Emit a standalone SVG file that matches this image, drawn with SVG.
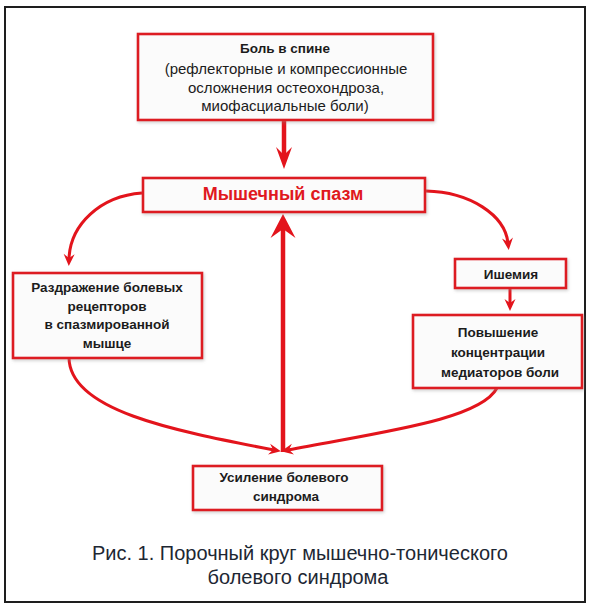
<svg xmlns="http://www.w3.org/2000/svg" width="590" height="608" viewBox="0 0 590 608">
<defs>
<style>
.box{fill:#fbfbfb;stroke:#dd1a22;stroke-width:2.6;filter:url(#sh)}
.t{font-family:"Liberation Sans",Arial,sans-serif;font-size:13.5px;font-weight:bold;fill:#1c1c1c;text-anchor:middle}
.tr{font-family:"Liberation Sans",Arial,sans-serif;font-size:15px;fill:#1c1c1c;text-anchor:middle}
.spasm{font-family:"Liberation Sans",Arial,sans-serif;font-size:18px;font-weight:bold;fill:#e01820;text-anchor:middle}
.cap{font-family:"Liberation Sans",Arial,sans-serif;font-size:20px;fill:#1d2733;text-anchor:middle}
.c{fill:none;stroke:#e3141c;stroke-width:3}
.thick{fill:none;stroke:#e3141c;stroke-width:4.5}
</style>
<filter id="sh" x="-10%" y="-20%" width="120%" height="140%">
<feDropShadow dx="1" dy="1.5" stdDeviation="1.5" flood-color="#888" flood-opacity="0.4"/>
</filter>
<marker id="hs" viewBox="-13 -6 14 12" refX="-7" refY="0" markerWidth="14" markerHeight="12" markerUnits="userSpaceOnUse" orient="auto">
<path d="M0,0 L-12,-5.5 L-8,0 L-12,5.5 z" fill="#e3141c"/>
</marker>
<marker id="hb" viewBox="-23 -10 24 20" refX="-13" refY="0" markerWidth="24" markerHeight="20" markerUnits="userSpaceOnUse" orient="auto">
<path d="M0,0 L-22,-8 L-14,0 L-22,8 z" fill="#e3141c"/>
</marker>
<marker id="hu" viewBox="-25 -14 26 28" refX="-14" refY="0" markerWidth="26" markerHeight="28" markerUnits="userSpaceOnUse" orient="auto">
<path d="M0,0 L-24,-12.5 L-15,0 L-24,12.5 z" fill="#e3141c"/>
</marker>
</defs>
<rect x="0" y="0" width="590" height="608" fill="#ffffff"/>
<rect x="5" y="7" width="580" height="595" fill="#ffffff" stroke="#1e1e1e" stroke-width="2"/>

<g id="connectors">
<path class="thick" d="M284,121 L284,156" marker-end="url(#hb)"/>
<path class="c" d="M142,193 C100,196 70,225 69,259" marker-end="url(#hs)"/>
<path class="c" d="M426,191 C470,192 505,215 508,243" marker-end="url(#hs)"/>
<path class="c" d="M510,288 L510,304" marker-end="url(#hs)"/>
<path class="c" d="M69,358 C70,410 170,430 274,450" marker-end="url(#hs)"/>
<path class="c" d="M497,388 C480,420 380,432 288,450" marker-end="url(#hs)"/>
<path class="thick" d="M283,452 L283,228" marker-end="url(#hu)"/>
</g>

<g id="pain-back">
<rect class="box" x="138" y="34" width="295" height="86"/>
<text class="t" x="285" y="53">Боль в спине</text>
<text class="tr" x="286" y="74">(рефлекторные и компрессионные</text>
<text class="tr" x="286" y="93">осложнения остеохондроза,</text>
<text class="tr" x="285" y="111">миофасциальные боли)</text>
</g>

<g id="spasm">
<rect class="box" x="143" y="178" width="282" height="34"/>
<text class="spasm" x="283" y="200">Мышечный спазм</text>
</g>

<g id="irritation">
<rect class="box" x="13" y="273" width="189" height="85"/>
<text class="t" x="107" y="292">Раздражение болевых</text>
<text class="t" x="107" y="311">рецепторов</text>
<text class="t" x="107" y="329">в спазмированной</text>
<text class="t" x="107" y="348">мышце</text>
</g>

<g id="ischemia">
<rect class="box" x="455" y="259" width="111" height="29"/>
<text class="t" x="511" y="279">Ишемия</text>
</g>

<g id="mediators">
<rect class="box" x="413" y="315" width="169" height="73"/>
<text class="t" x="498" y="337">Повышение</text>
<text class="t" x="498" y="357">концентрации</text>
<text class="t" x="500" y="377">медиаторов боли</text>
</g>

<g id="increase">
<rect class="box" x="193" y="466" width="189" height="44"/>
<text class="t" x="284" y="482">Усиление болевого</text>
<text class="t" x="286" y="501">синдрома</text>
</g>

<g id="caption">
<text class="cap" x="300" y="560">Рис. 1. Порочный круг мышечно-тонического</text>
<text class="cap" x="298" y="584">болевого синдрома</text>
</g>
</svg>
